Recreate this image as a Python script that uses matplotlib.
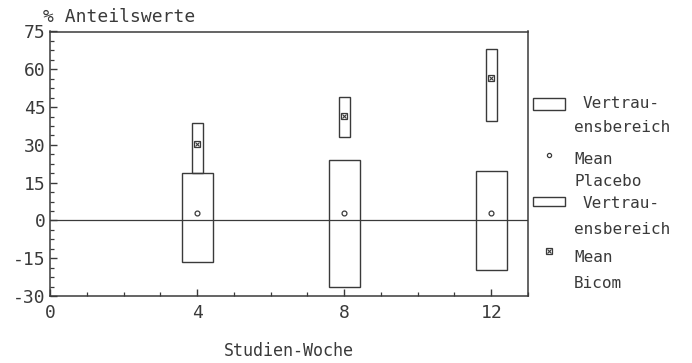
import matplotlib
matplotlib.use("Agg")
import matplotlib.pyplot as plt
from matplotlib.patches import Rectangle
from matplotlib.lines import Line2D
from matplotlib.ticker import MultipleLocator

# study weeks and confidence ranges (% Anteilswerte)
weeks = [4, 8, 12]
placebo_mean = [3, 3, 3]
placebo_low = [-16.5, -26.5, -19.5]
placebo_high = [19, 24, 19.5]
bicom_mean = [30.5, 41.5, 56.5]
bicom_low = [19, 33, 39.5]
bicom_high = [38.5, 49, 68]

x_ticks = [0, 4, 8, 12]
y_ticks = [-30, -15, 0, 15, 30, 45, 60, 75]

INK = "#3a3a3a"
FONT = "DejaVu Sans Mono"
plt.rcParams["axes.unicode_minus"] = False
plt.rcParams["font.family"] = FONT

W, H = 692, 363
fig = plt.figure(figsize=(W / 100, H / 100), dpi=100)
ax = fig.add_axes([50 / W, 67 / H, 478 / W, 264.5 / H])

# confidence boxes
ax.bar(weeks, [h - l for h, l in zip(placebo_high, placebo_low)], bottom=placebo_low,
       width=0.84, fill=False, edgecolor=INK, linewidth=1.0, zorder=3)
ax.bar(weeks, [h - l for h, l in zip(bicom_high, bicom_low)], bottom=bicom_low,
       width=0.3, fill=False, edgecolor=INK, linewidth=1.0, zorder=3)

# means
ax.plot(weeks, placebo_mean, "o", ms=3.5, mfc="white", mec=INK, mew=0.9, ls="none", zorder=4)
ax.plot(weeks, bicom_mean, "s", ms=5, mfc="white", mec=INK, mew=0.9, ls="none", zorder=4)
ax.plot(weeks, bicom_mean, "x", ms=3.5, mec=INK, mew=0.8, ls="none", zorder=5)

ax.axhline(0, color=INK, lw=0.9, zorder=2)

ax.set_xlim(0, 13)
ax.set_ylim(-30, 75)
ax.set_xticks(x_ticks)
ax.set_yticks(y_ticks)
ax.xaxis.set_minor_locator(MultipleLocator(1))
ax.yaxis.set_minor_locator(MultipleLocator(3.75))
ax.tick_params(which="both", direction="in", color=INK, labelcolor=INK, labelsize=13)
ax.tick_params(which="major", length=5, width=1.0)
ax.tick_params(which="minor", length=3, width=0.9)
ax.tick_params(axis="x", pad=6)
ax.tick_params(axis="y", pad=3)
for s in ax.spines.values():
    s.set_color(INK)
    s.set_linewidth(1.1)

ax.set_xlabel("Studien-Woche", fontsize=12, color=INK, labelpad=14)
fig.text(43 / W, 1 - 17 / H, "% Anteilswerte", fontsize=13, color=INK, va="center", ha="left")


# legend on the right, placed in pixel coordinates
def fx(px):
    return px / W


def fy(py):
    return 1 - py / H


def legend_text(px, py, s):
    fig.text(fx(px), fy(py), s, fontsize=11.5, color=INK, va="center", ha="left")


for top, bot, y1, y2 in [(98, 110, 103, 127), (197, 206, 204, 229)]:
    fig.add_artist(Rectangle((fx(533), fy(bot)), 32 / W, (bot - top) / H,
                             fill=False, edgecolor=INK, lw=1.0, transform=fig.transFigure))
    legend_text(583, y1, "Vertrau-")
    legend_text(574, y2, "ensbereich")

fig.add_artist(Line2D([fx(549)], [fy(155)], marker="o", ms=3, mfc="white", mec=INK,
                      mew=0.9, transform=fig.transFigure))
legend_text(574, 159, "Mean")
legend_text(574, 181, "Placebo")

fig.add_artist(Line2D([fx(549)], [fy(251)], marker="s", ms=5, mfc="white", mec=INK,
                      mew=0.9, transform=fig.transFigure))
fig.add_artist(Line2D([fx(549)], [fy(251)], marker="x", ms=3.5, mec=INK,
                      mew=0.8, transform=fig.transFigure))
legend_text(574, 258, "Mean")
legend_text(574, 283, "Bicom")

fig.savefig("out.png", dpi=100)
